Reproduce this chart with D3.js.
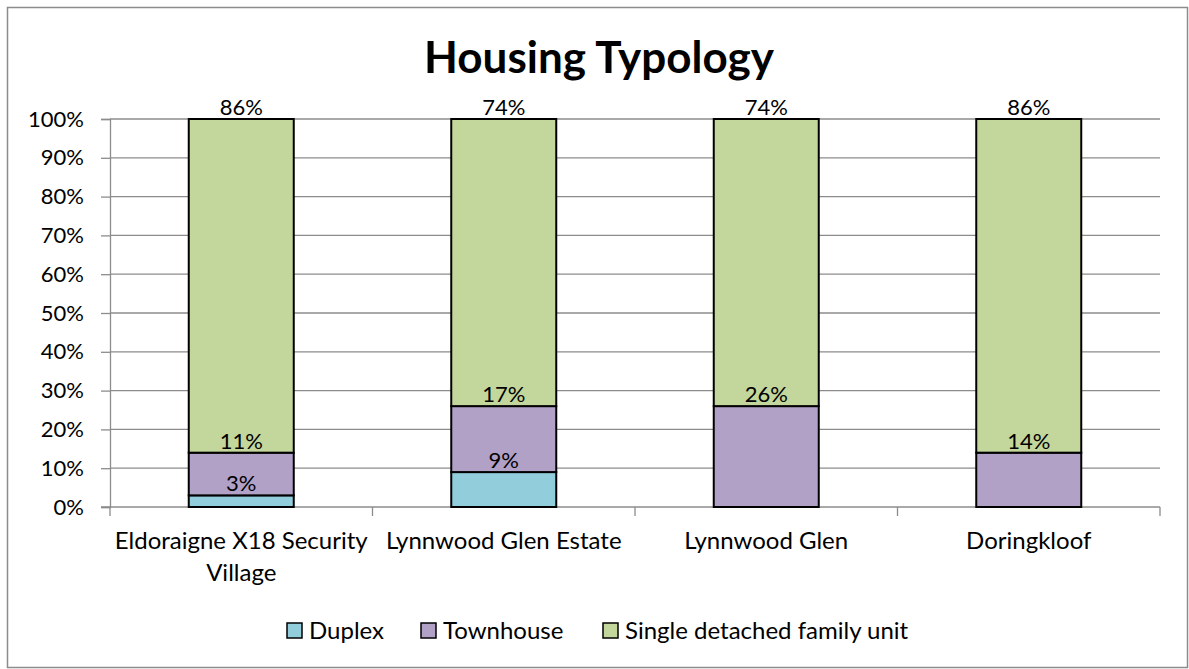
<!DOCTYPE html>
<html>
<head>
<meta charset="utf-8">
<script src="https://cdn.jsdelivr.net/npm/d3@7"></script>
<style>
    body { margin: 0; background: #fff; }
    text { font-family: Lato, "Open Sans", sans-serif; fill: #000; }
</style>
</head>
<body>
<div id="chart"></div>
<script>
// chart values (percent)
let categories = ["Eldoraigne X18 Security Village", "Lynnwood Glen Estate", "Lynnwood Glen", "Doringkloof"];
let seriesNames = ["Duplex", "Townhouse", "Single detached family unit"];
let duplex = [3, 9, 0, 0];
let townhouse = [11, 17, 26, 14];
let single = [86, 74, 74, 86];
let yTicks = [0, 10, 20, 30, 40, 50, 60, 70, 80, 90, 100];
let colours = ["#92cddc", "#b2a1c7", "#c3d69b"];

let width = 1189, height = 669;
let margin = { left: 110, right: 29, top: 119, bottom: 162 };

let svg = d3.select("#chart").append("svg")
    .attr("width", width)
    .attr("height", height);

// chart border
svg.append("rect")
    .attr("x", 7.5).attr("y", 7.5)
    .attr("width", 1180).attr("height", 660)
    .attr("fill", "none")
    .attr("stroke", "#8c8c8c")
    .attr("stroke-width", 1.5);

svg.append("text")
    .attr("x", 599).attr("y", 73)
    .attr("text-anchor", "middle")
    .style("font-size", "44px")
    .style("font-weight", "bold")
    .text("Housing Typology");

let x = d3.scaleBand()
    .domain(categories)
    .range([margin.left, width - margin.right])
    .paddingInner(0.6)
    .paddingOuter(0.3);

let y = d3.scaleLinear()
    .domain([0, 100])
    .range([height - margin.bottom, margin.top]);

// gridlines
svg.append("g")
    .selectAll("line")
    .data(yTicks.slice(1))
    .enter().append("line")
    .attr("x1", margin.left).attr("x2", width - margin.right)
    .attr("y1", (d) => y(d)).attr("y2", (d) => y(d))
    .attr("stroke", "#8c8c8c")
    .attr("stroke-width", 1.3);

// y axis
let yAxis = svg.append("g")
    .attr("transform", `translate(${margin.left},0)`)
    .call(d3.axisLeft(y).tickValues(yTicks).tickSize(9).tickPadding(17).tickFormat((d) => d + "%"));
yAxis.select(".domain").attr("stroke", "#8c8c8c").attr("stroke-width", 1.3);
yAxis.selectAll(".tick line").attr("stroke", "#8c8c8c").attr("stroke-width", 1.3);
yAxis.selectAll(".tick text")
    .style("font-size", "22px")
    .style("font-family", "Lato, sans-serif")
    .attr("fill", "#000");

// x axis, ticks sit between the categories
let catEdges = d3.range(categories.length + 1)
    .map((i) => margin.left + i * (width - margin.left - margin.right) / categories.length);
let xg = svg.append("g");
xg.append("line")
    .attr("x1", margin.left - 9).attr("x2", width - margin.right)
    .attr("y1", y(0)).attr("y2", y(0))
    .attr("stroke", "#8c8c8c").attr("stroke-width", 1.3);
xg.selectAll(".xt")
    .data(catEdges)
    .enter().append("line")
    .attr("x1", (d) => d).attr("x2", (d) => d)
    .attr("y1", y(0)).attr("y2", y(0) + 9)
    .attr("stroke", "#8c8c8c").attr("stroke-width", 1.3);

let catLines = {
    "Eldoraigne X18 Security Village": ["Eldoraigne X18 Security", "Village"]
};
categories.forEach((c) => {
    let lines = catLines[c] || [c];
    let cx = x(c) + x.bandwidth() / 2;
    let t = svg.append("text")
        .attr("x", cx)
        .attr("y", 549)
        .attr("text-anchor", "middle")
        .style("font-size", "24px");
    lines.forEach((l, i) => {
        t.append("tspan")
            .attr("x", cx)
            .attr("dy", i === 0 ? 0 : 32)
            .text(l);
    });
});

// stacked bars
let table = categories.map((c, i) => ({
    cat: c,
    "Duplex": duplex[i],
    "Townhouse": townhouse[i],
    "Single detached family unit": single[i]
}));
let stacked = d3.stack().keys(seriesNames)(table);

stacked.forEach((layer, li) => {
    svg.append("g")
        .selectAll("rect")
        .data(layer.filter((d) => d[1] - d[0] > 0))
        .enter().append("rect")
        .attr("x", (d) => x(d.data.cat))
        .attr("width", x.bandwidth())
        .attr("y", (d) => y(d[1]))
        .attr("height", (d) => y(d[0]) - y(d[1]))
        .attr("fill", colours[li])
        .attr("stroke", "#000")
        .attr("stroke-width", 2);
});

// value labels just above the top of each segment
stacked.forEach((layer) => {
    svg.append("g")
        .selectAll("text")
        .data(layer.filter((d) => d[1] - d[0] > 0))
        .enter().append("text")
        .attr("x", (d) => x(d.data.cat) + x.bandwidth() / 2)
        .attr("y", (d) => y(d[1]) - 4)
        .attr("text-anchor", "middle")
        .style("font-size", "22px")
        .text((d) => (d[1] - d[0]) + "%");
});

// legend
let legendX = [287, 421, 603];
let legend = svg.append("g");
seriesNames.forEach((s, i) => {
    legend.append("rect")
        .attr("x", legendX[i]).attr("y", 623)
        .attr("width", 15).attr("height", 15)
        .attr("fill", colours[i])
        .attr("stroke", "#000")
        .attr("stroke-width", 1.5);
    legend.append("text")
        .attr("x", legendX[i] + 22).attr("y", 639)
        .style("font-size", "24px")
        .text(s);
});
</script>
</body>
</html>
